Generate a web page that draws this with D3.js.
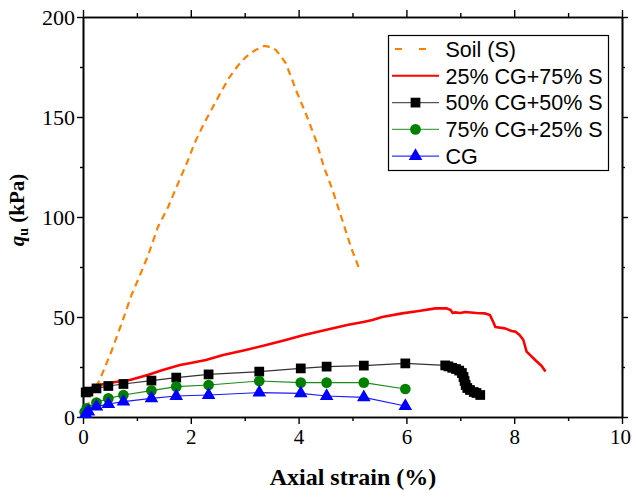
<!DOCTYPE html>
<html>
<head>
<meta charset="utf-8">
<script src="https://cdn.jsdelivr.net/npm/d3@7"></script>
<style>
  html, body { margin: 0; padding: 0; background: #fff; }
  svg { display: block; }
</style>
</head>
<body>
<svg id="chart" width="632" height="491"></svg>
<script>
// Unconfined compression curves: axial strain (%) vs q_u (kPa)

const seriesNames = ["Soil (S)", "25% CG+75% S", "50% CG+50% S", "75% CG+25% S", "CG"];

// Soil (S) — continuous record
const soilStrain = [0.08, 0.13, 0.31, 0.53, 0.72, 0.9, 1.02, 1.21, 1.39, 1.58, 1.79, 1.95, 2.07, 2.25, 2.41, 2.57, 2.72, 2.87, 3.02, 3.2, 3.36, 3.48, 3.58, 3.68, 3.76, 3.89, 3.95, 4.13, 4.32, 4.47, 4.63, 4.81, 4.97, 5.14];
const soilQu     = [4, 10, 18.5, 33, 47, 61, 68.5, 81, 95, 105, 118.5, 128.5, 137, 147, 155, 163, 170, 175.5, 180, 183.5, 185.5, 185, 183.5, 180, 177, 168, 163.5, 152, 138.5, 125, 113.5, 98.5, 85, 73];

// 25% CG + 75% S — continuous record
const mix25Strain = [0.02, 0.1, 0.3, 0.6, 0.87, 1.2, 1.48, 1.8, 2.0, 2.28, 2.6, 3.02, 3.4, 3.76, 4.1, 4.5, 4.9, 5.2, 5.37, 5.55, 5.92, 6.23, 6.54, 6.75, 6.82, 6.86, 6.9, 7.0, 7.09, 7.3, 7.46, 7.55, 7.62, 7.65, 7.83, 7.95, 8.02, 8.1, 8.17, 8.23, 8.39, 8.51, 8.58];
const mix25Qu     = [12, 14, 16, 17.5, 18.5, 21, 23.5, 26, 27, 28.5, 31, 33.5, 36, 38.5, 41, 43.5, 46, 47.5, 48.5, 50, 51.8, 53, 54.3, 54.3, 53.5, 52, 52.3, 52, 52.5, 52, 51.8, 51, 47, 45, 44.3, 43, 42.7, 41, 38.5, 32.7, 28.5, 25.5, 22.7];

// 50% CG + 50% S — discrete readings
const mix50Strain = [0.05, 0.1, 0.25, 0.47, 0.75, 1.27, 1.73, 2.33, 3.27, 4.04, 4.52, 5.21, 5.98, 6.72, 6.78, 6.85, 6.92, 6.98, 7.03, 7.06, 7.08, 7.1, 7.13, 7.18, 7.25, 7.3, 7.37];
const mix50Qu     = [12.3, 12.7, 14.3, 15.5, 16.5, 18.2, 19.7, 21.3, 22.7, 24.3, 25.2, 25.7, 26.8, 25.8, 25.3, 24.6, 24, 23.2, 22, 20, 18, 16, 14.5, 13.5, 12.5, 12, 11];

// 75% CG + 25% S — discrete readings
const mix75Strain = [0.03, 0.07, 0.25, 0.47, 0.75, 1.27, 1.73, 2.33, 3.27, 4.04, 4.52, 5.21, 5.98];
const mix75Qu     = [2.5, 4.3, 7.2, 9.3, 11, 13.2, 15.2, 16, 18, 17.2, 17.2, 17.2, 14];

// CG — discrete readings
const cgStrain = [0.05, 0.1, 0.25, 0.47, 0.75, 1.27, 1.73, 2.33, 3.27, 4.04, 4.52, 5.21, 5.98];
const cgQu     = [1.5, 2.7, 5.2, 6.5, 7.7, 9.3, 10.5, 11, 12.2, 11.8, 10.5, 9.8, 5.5];

const xTicks = [0, 2, 4, 6, 8, 10];
const yTicks = [0, 50, 100, 150, 200];

const zip = (xs, ys) => xs.map((x, i) => ({ x, y: ys[i] }));

const svg = d3.select("#chart");
const plotLeft = 83, plotRight = 622, plotTop = 17, plotBottom = 417;

const x = d3.scaleLinear().domain([0, 10]).range([plotLeft, plotRight]);
const y = d3.scaleLinear().domain([0, 200]).range([plotBottom, plotTop]);

const serif = "'Liberation Serif', 'Times New Roman', serif";
const sans = "'Liberation Sans', Arial, sans-serif";

// Axes: four sides, outward ticks, minor ticks at half steps
function styleAxis(g) {
  g.selectAll("path.domain").attr("stroke", "#000").attr("stroke-width", 1.6);
  g.selectAll(".tick line").attr("stroke", "#000").attr("stroke-width", 1.4);
}
const xMinor = d3.range(1, 10, 2);
const yMinor = d3.range(25, 200, 50);

// bottom
svg.append("g").attr("transform", `translate(0,${plotBottom})`)
  .call(d3.axisBottom(x).tickValues(xMinor).tickSize(4).tickSizeOuter(0).tickFormat(""))
  .call(styleAxis);
const gxb = svg.append("g").attr("transform", `translate(0,${plotBottom})`)
  .call(d3.axisBottom(x).tickValues(xTicks).tickSize(7).tickSizeOuter(0).tickPadding(5))
  .call(styleAxis);
gxb.selectAll(".tick text").attr("font-family", serif).attr("font-size", 21).attr("fill", "#000");
// keep the last label inside the page edge
gxb.selectAll(".tick text").filter(d => d === 10).attr("dx", -2);

// top
svg.append("g").attr("transform", `translate(0,${plotTop})`)
  .call(d3.axisTop(x).tickValues(xMinor).tickSize(4).tickSizeOuter(0).tickFormat(""))
  .call(styleAxis);
svg.append("g").attr("transform", `translate(0,${plotTop})`)
  .call(d3.axisTop(x).tickValues(xTicks).tickSize(7).tickSizeOuter(0).tickFormat(""))
  .call(styleAxis);

// left
svg.append("g").attr("transform", `translate(${plotLeft},0)`)
  .call(d3.axisLeft(y).tickValues(yMinor).tickSize(3).tickSizeOuter(0).tickFormat(""))
  .call(styleAxis);
const gyl = svg.append("g").attr("transform", `translate(${plotLeft},0)`)
  .call(d3.axisLeft(y).tickValues(yTicks).tickSize(6).tickSizeOuter(0).tickPadding(2))
  .call(styleAxis);
gyl.selectAll(".tick text").attr("font-family", serif).attr("font-size", 22).attr("fill", "#000");

// right
svg.append("g").attr("transform", `translate(${plotRight},0)`)
  .call(d3.axisRight(y).tickValues(yMinor).tickSize(3).tickSizeOuter(0).tickFormat(""))
  .call(styleAxis);
svg.append("g").attr("transform", `translate(${plotRight},0)`)
  .call(d3.axisRight(y).tickValues(yTicks).tickSize(6).tickSizeOuter(0).tickFormat(""))
  .call(styleAxis);

// Axis titles
svg.append("text")
  .attr("x", 353).attr("y", 485)
  .attr("text-anchor", "middle")
  .attr("font-family", serif).attr("font-size", 24).attr("font-weight", "bold")
  .text("Axial strain (%)");

const yt = svg.append("text")
  .attr("transform", `translate(24,210) rotate(-90)`)
  .attr("text-anchor", "middle")
  .attr("font-family", serif).attr("font-size", 21).attr("font-weight", "bold");
yt.append("tspan").attr("font-style", "italic").text("q");
yt.append("tspan").attr("font-size", 14).attr("dy", 4).text("u");
yt.append("tspan").attr("dy", -4).text(" (kPa)");

// Curves
const line = d3.line().x(d => x(d.x)).y(d => y(d.y));
const plot = svg.append("g");

plot.append("path").datum(zip(soilStrain, soilQu))
  .attr("d", line).attr("fill", "none")
  .attr("stroke", "#FF8000").attr("stroke-width", 2.2).attr("stroke-dasharray", "7,5");

plot.append("path").datum(zip(mix25Strain, mix25Qu))
  .attr("d", line).attr("fill", "none")
  .attr("stroke", "#FF0000").attr("stroke-width", 2.6).attr("stroke-linejoin", "round");

const sym = {
  square: d3.symbol().type(d3.symbolSquare).size(95),
  circle: d3.symbol().type(d3.symbolCircle).size(90),
  triangle: d3.symbol().type(d3.symbolTriangle).size(80)
};

function markedSeries(data, lineColor, fill, shape) {
  plot.append("path").datum(data)
    .attr("d", line).attr("fill", "none")
    .attr("stroke", lineColor).attr("stroke-width", 1.2);
  plot.append("g").selectAll("path").data(data).join("path")
    .attr("transform", d => `translate(${x(d.x)},${y(d.y)})`)
    .attr("d", sym[shape]())
    .attr("fill", fill);
}

markedSeries(zip(mix50Strain, mix50Qu), "#333", "#000", "square");
markedSeries(zip(mix75Strain, mix75Qu), "#1a8a1a", "#008000", "circle");
markedSeries(zip(cgStrain, cgQu), "#1a1aff", "#0000FF", "triangle");

// Legend
const lg = svg.append("g");
lg.append("rect").attr("x", 388.5).attr("y", 35.5).attr("width", 220).attr("height", 135)
  .attr("fill", "#fff").attr("stroke", "#000").attr("stroke-width", 1.2);

const legendItems = [
  { name: seriesNames[0], color: "#FF8000", width: 2, dash: "7,17", dashOffset: -3, shape: null },
  { name: seriesNames[1], color: "#FF0000", width: 2, dash: null, shape: null },
  { name: seriesNames[2], color: "#555", width: 1.2, dash: null, shape: "square", fill: "#000" },
  { name: seriesNames[3], color: "#4aa84a", width: 1.2, dash: null, shape: "circle", fill: "#008000" },
  { name: seriesNames[4], color: "#3333ff", width: 1.2, dash: null, shape: "triangle", fill: "#0000FF" }
];
const rowY = i => 49 + i * 26.8;
legendItems.forEach((it, i) => {
  const cy = rowY(i);
  const ln = lg.append("line").attr("x1", 392).attr("x2", 439).attr("y1", cy).attr("y2", cy)
    .attr("stroke", it.color).attr("stroke-width", it.width);
  if (it.dash) ln.attr("stroke-dasharray", it.dash).attr("stroke-dashoffset", it.dashOffset);
  if (it.shape) {
    lg.append("path").attr("transform", `translate(415.5,${cy})`)
      .attr("d", sym[it.shape]()).attr("fill", it.fill);
  }
  lg.append("text").attr("x", 445.5).attr("y", cy + 7.8)
    .attr("font-family", sans).attr("font-size", 21.5).attr("fill", "#000")
    .text(it.name);
});
</script>
</body>
</html>
